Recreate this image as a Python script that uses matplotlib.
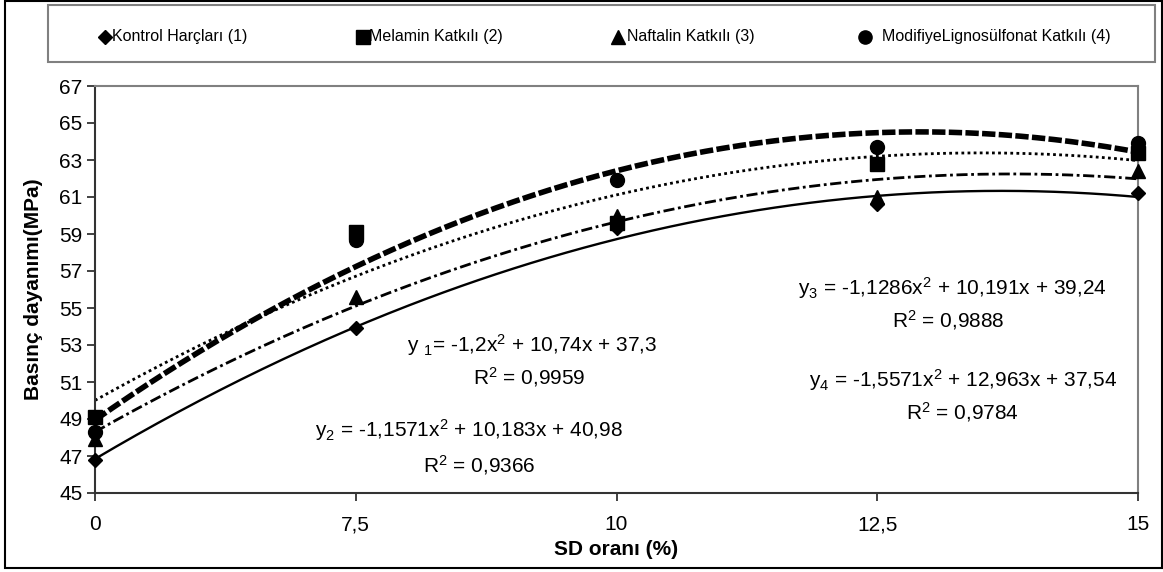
import numpy as np
import matplotlib
matplotlib.use("Agg")
import matplotlib.pyplot as plt
from matplotlib.lines import Line2D
from matplotlib.patches import Rectangle

plt.rcParams['font.family'] = ['Liberation Sans', 'DejaVu Sans']
plt.rcParams['mathtext.fontset'] = 'custom'
plt.rcParams['mathtext.rm'] = 'Liberation Sans'
plt.rcParams['mathtext.default'] = 'regular'

# ---- data ----
categories = ['0', '7,5', '10', '12,5', '15']
kontrol = [46.8, 53.9, 59.3, 60.6, 61.2]
melamin = [49.1, 59.1, 59.6, 62.8, 63.4]
naftalin = [47.9, 55.6, 60.0, 61.0, 62.4]
modifiye = [48.3, 58.7, 61.9, 63.7, 63.9]
series_names = ['Kontrol Harçları (1)', 'Melamin Katkılı (2)',
                'Naftalin Katkılı (3)', 'ModifiyeLignosülfonat Katkılı (4)']
# trendline coefficients (a, b, c) from the chart, x = 1..5
coef_kontrol = [-1.2, 10.74, 37.3]
coef_melamin = [-1.1571, 10.183, 40.98]
coef_naftalin = [-1.1286, 10.191, 39.24]
coef_modifiye = [-1.5571, 12.963, 37.54]
eq_texts = ['y $_1$= -1,2x$^2$ + 10,74x + 37,3', 'R$^2$ = 0,9959',
            'y$_2$ = -1,1571x$^2$ + 10,183x + 40,98', 'R$^2$ = 0,9366',
            'y$_3$ = -1,1286x$^2$ + 10,191x + 39,24', 'R$^2$ = 0,9888',
            'y$_4$ = -1,5571x$^2$ + 12,963x + 37,54', 'R$^2$ = 0,9784']
yticks = list(range(45, 68, 2))

W, H = 1163, 572
fig = plt.figure(figsize=(W / 100, H / 100), dpi=100)
ax = fig.add_axes([95 / W, 1 - 493 / H, (1138 - 95) / W, (493 - 86) / H])

pos = np.arange(len(categories))
xs = np.linspace(0, len(categories) - 1, 300)

styles = [
    dict(color='black', lw=1.7, ls='-'),
    dict(color='black', lw=2.0, ls=(0, (1, 1.2))),
    dict(color='black', lw=2.0, ls=(0, (4.0, 1.3, 1.0, 1.3))),
    dict(color='black', lw=4.0, ls=(0, (2.4, 0.6))),
]
coefs = [coef_kontrol, coef_melamin, coef_naftalin, coef_modifiye]
for c, st in zip(coefs, styles):
    ax.plot(xs, np.polyval(c, xs + 1), solid_capstyle='butt', dash_capstyle='butt', **st)

markers = [('D', 7.5), ('s', 10), ('^', 10.5), ('o', 10)]
datas = [kontrol, melamin, naftalin, modifiye]
for d, (m, ms) in zip(datas, markers):
    ax.plot(pos, d, ls='none', marker=m, ms=ms, color='black', zorder=5, clip_on=False)

ax.set_xlim(0, len(categories) - 1)
ax.set_ylim(45, 67)
ax.set_xticks(pos)
ax.set_xticklabels(categories, fontsize=15)
ax.set_yticks(yticks)
ax.set_yticklabels([str(v) for v in yticks], fontsize=15)
ax.tick_params(axis='both', direction='out', length=6, width=1.3, color='#333333')
ax.tick_params(axis='x', pad=10)
ax.tick_params(axis='y', pad=3)
for s in ['left', 'bottom']:
    ax.spines[s].set_color('#333333')
    ax.spines[s].set_linewidth(1.5)
for s in ['top', 'right']:
    ax.spines[s].set_color('#808080')
    ax.spines[s].set_linewidth(1.5)

ax.set_xlabel('SD oranı (%)', fontsize=15, fontweight='bold', labelpad=4)
ax.set_ylabel('Basınç dayanımı(MPa)', fontsize=15, fontweight='bold', labelpad=12)

eq_pos = [(0.419, 0.364), (0.416, 0.285), (0.3586, 0.155), (0.368, 0.069),
          (0.8217, 0.5037), (0.818, 0.425), (0.832, 0.278), (0.832, 0.199)]
for t, (x, y) in zip(eq_texts, eq_pos):
    ax.text(x, y, t, transform=ax.transAxes, ha='center', va='center', fontsize=15)

# legend box
fig.add_artist(Rectangle((48 / W, 1 - 62 / H), (1155 - 48) / W, (62 - 5) / H,
                         transform=fig.transFigure, fill=False, ec='#808080', lw=1.5))
leg_marker_x = [105, 363, 618, 865]
leg_text_x = [112, 369, 627, 882]
leg_ms = [7, 9.5, 10.5, 9.5]
ly = 1 - 37 / H
for (m, _), ms, mx, tx, name in zip(markers, leg_ms, leg_marker_x, leg_text_x, series_names):
    fig.add_artist(Line2D([mx / W], [ly], transform=fig.transFigure, marker=m, ms=ms,
                          color='black', ls='none'))
    fig.text(tx / W, ly, name, fontsize=11.5, ha='left', va='center')

# outer border
fig.add_artist(Rectangle((5 / W, 1 - 568 / H), (1162 - 5) / W, (568 - 1) / H,
                         transform=fig.transFigure, fill=False, ec='black', lw=1.5))

fig.savefig('out.png', dpi=100)
